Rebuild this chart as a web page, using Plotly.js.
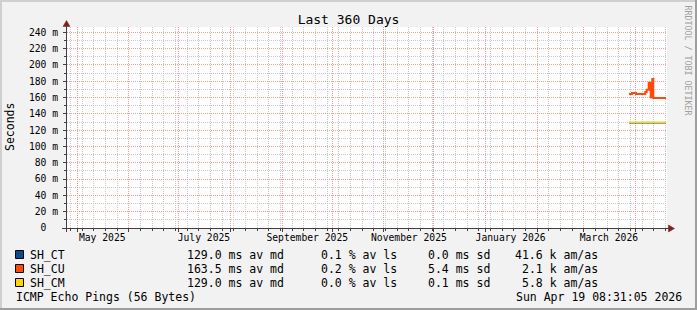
<!DOCTYPE html>
<html><head><meta charset="utf-8">
<script src="https://cdn.plot.ly/plotly-3.0.1.min.js"></script>
<style>html,body{margin:0;padding:0;background:#f2f2f2;overflow:hidden}#chart{width:697px;height:310px}</style>
</head><body><div id="chart"></div><script>
// ---- data ----
const seriesNames = ["SH_CT", "SH_CU", "SH_CM"];
const ctTimes = ["2026-03-28 01:00", "2026-04-19 06:00"];
const ctValues = [129.0, 129.0];
const cuTimes = ["2026-03-28 01:00", "2026-03-29 20:00", "2026-04-01 05:30", "2026-04-06 19:30",
  "2026-04-07 15:40", "2026-04-08 20:30", "2026-04-10 01:20", "2026-04-11 00:20",
  "2026-04-11 14:50", "2026-04-19 06:00"];
const cuValues = [164.2, 165.5, 164.2, 166.8, 169.5, 178.0, 160.5, 182.6, 159.3, 159.3];
const cmTimes = ["2026-03-28 01:00", "2026-04-19 06:00"];
const cmValues = [129.6, 129.6];
const medians = [129.0, 163.5, 129.0];
const losses = [0.1, 0.2, 0.0];
const stdevs = [0.0, 5.4, 0.1];
const amas = [41.6, 2.1, 5.8];
const monthTickDates = ["2025-05-16", "2025-07-16", "2025-09-16", "2025-11-16", "2026-01-16", "2026-03-16"];
const monthTickLabels = ["May 2025", "July 2025", "September 2025", "November 2025", "January 2026", "March 2026"];
const yTickVals = [0, 20, 40, 60, 80, 100, 120, 140, 160, 180, 200, 220, 240];
const yTickText = ["0\u00a0\u00a0", "20 m", "40 m", "60 m", "80 m", "100 m", "120 m", "140 m", "160 m", "180 m", "200 m", "220 m", "240 m"];
const chartTitle = "Last 360 Days";
const yTitle = "Seconds";
const footerLeft = "ICMP Echo Pings (56 Bytes)";
const footerRight = "Sun Apr 19 08:31:05 2026";
const watermark = "RRDTOOL / TOBI OETIKER";
const xRange = ["2025-04-24 20:00", "2026-04-19 20:00"];
const yRange = [0, 246.5];

// ---- style ----
const FONT = "DejaVu Sans Mono";
const colors = ["#0b4c8e", "#ff4a0a", "#ffd400"];
const L = 67, R = 667, T = 27, B = 228, W = 697, H = 310;
const px = x => (x - L) / (R - L);
const py = y => (B - y) / (B - T);
const axisColor = "#404040";
const MGRID = "#f09a9a", GRID = "#c8c8c8";
const WEEK = 7 * 24 * 3600 * 1000;

const traces = [
  {x: ctTimes, y: ctValues, name: seriesNames[0], mode: "lines", line: {color: colors[0], width: 1.5, shape: "hv"}},
  {x: cuTimes, y: cuValues, name: seriesNames[1], mode: "lines", line: {color: colors[1], width: 2, shape: "hv"}},
  {x: cmTimes, y: cmValues, name: seriesNames[2], mode: "lines", line: {color: colors[2], width: 1.5, shape: "hv"}},
  {x: [], y: [], xaxis: "x2", yaxis: "y", showlegend: false, hoverinfo: "skip"},
  {x: [], y: [], xaxis: "x3", yaxis: "y", showlegend: false, hoverinfo: "skip"},
  {x: [], y: [], xaxis: "x", yaxis: "y2", showlegend: false, hoverinfo: "skip"}
];

const shapes = [];
// 3D border (shade A top/left, shade B bottom/right)
shapes.push({type: "line", xref: "paper", yref: "paper", x0: px(0), x1: px(W), y0: py(1), y1: py(1), line: {color: "#cfcfcf", width: 2}});
shapes.push({type: "line", xref: "paper", yref: "paper", x0: px(1), x1: px(1), y0: py(0), y1: py(H), line: {color: "#cfcfcf", width: 2}});
shapes.push({type: "line", xref: "paper", yref: "paper", x0: px(0), x1: px(W), y0: py(H - 1), y1: py(H - 1), line: {color: "#9e9e9e", width: 2}});
shapes.push({type: "line", xref: "paper", yref: "paper", x0: px(W - 1), x1: px(W - 1), y0: py(0), y1: py(H), line: {color: "#9e9e9e", width: 2}});
// axes with arrows
shapes.push({type: "line", xref: "paper", yref: "paper", x0: px(66.5), x1: px(66.5), y0: py(232), y1: py(25), line: {color: axisColor, width: 1}});
shapes.push({type: "line", xref: "paper", yref: "paper", x0: px(62), x1: px(669), y0: py(228.5), y1: py(228.5), line: {color: axisColor, width: 1}});
shapes.push({type: "path", xref: "paper", yref: "paper",
  path: `M ${px(66.5)} ${py(20.5)} L ${px(63)} ${py(26.5)} L ${px(70)} ${py(26.5)} Z`,
  fillcolor: "#801f1f", line: {color: "#801f1f", width: 0.5}});
shapes.push({type: "path", xref: "paper", yref: "paper",
  path: `M ${px(674.5)} ${py(228.5)} L ${px(668.5)} ${py(225)} L ${px(668.5)} ${py(232)} Z`,
  fillcolor: "#801f1f", line: {color: "#801f1f", width: 0.5}});

const annotations = [];
const rowY = [254.5, 268.5, 282.5];
const ann = (text, x, y, anchor, extra) => Object.assign({
  text: text, xref: "paper", yref: "paper", x: px(x), y: py(y), xanchor: anchor, yanchor: "middle",
  showarrow: false, font: {family: FONT, size: 11.5, color: "#000"}, borderpad: 0
}, extra || {});
seriesNames.forEach((n, i) => {
  shapes.push({type: "rect", xref: "paper", yref: "paper", x0: px(15.5), x1: px(23.5), y0: py(rowY[i] + 4), y1: py(rowY[i] - 4),
    fillcolor: colors[i], line: {color: "#000", width: 1}});
  annotations.push(ann(n, 29, rowY[i], "left"));
  annotations.push(ann(medians[i].toFixed(1) + " ms av md", 185.5, rowY[i], "left"));
  annotations.push(ann(losses[i].toFixed(1) + " % av ls", 320, rowY[i], "left"));
  annotations.push(ann(stdevs[i].toFixed(1) + " ms sd", 427, rowY[i], "left"));
  annotations.push(ann(amas[i].toFixed(1) + " k am/as", 598.5, rowY[i], "right"));
});
annotations.push(ann(footerLeft, 15, 296.5, "left"));
annotations.push(ann(footerRight, 682.5, 296.5, "right"));
annotations.push(ann(yTitle, 10, 127, "center", {textangle: -90}));
annotations.push(ann(watermark, 687.5, 60, "center", {textangle: 90, font: {family: FONT, size: 8.3, color: "#a0a0a0"}}));

const tickFont = {family: FONT, size: 9.7, color: "#000"};
const layout = {
  width: W, height: H,
  margin: {l: L, r: W - R, t: T, b: H - B, pad: 0},
  paper_bgcolor: "#f2f2f2", plot_bgcolor: "#ffffff",
  showlegend: false,
  title: {text: chartTitle, font: {family: FONT, size: 13, color: "#000"}, xref: "container", yref: "container", x: 0.5, xanchor: "center", y: 1 - 19.5 / H, yanchor: "middle"},
  // weekly minor grid (data axis)
  xaxis: {
    type: "date", range: xRange, fixedrange: true,
    tickmode: "linear", tick0: "2025-04-27", dtick: WEEK,
    showticklabels: false, showgrid: true, gridcolor: GRID, gridwidth: 1, griddash: "1px,1px",
    ticks: "outside", ticklen: 2, tickcolor: axisColor, tickwidth: 1,
    showline: false, zeroline: false
  },
  // monthly major grid
  xaxis2: {
    type: "date", range: xRange, fixedrange: true, overlaying: "x", anchor: "y", side: "bottom",
    tickmode: "linear", tick0: "2025-05-01", dtick: "M1",
    showticklabels: false, showgrid: true, gridcolor: MGRID, gridwidth: 1, griddash: "1px,1px",
    ticks: "outside", ticklen: 3, tickcolor: axisColor, tickwidth: 1,
    showline: false, zeroline: false
  },
  // month labels
  xaxis3: {
    type: "date", range: xRange, fixedrange: true, overlaying: "x", anchor: "y", side: "bottom",
    tickmode: "array", tickvals: monthTickDates, ticktext: monthTickLabels,
    showgrid: false, ticks: "", showline: false, zeroline: false,
    tickfont: tickFont, ticklabelstandoff: 2
  },
  yaxis: {
    range: yRange, fixedrange: true,
    tickmode: "linear", tick0: 0, dtick: 10,
    showticklabels: false, showgrid: true, gridcolor: GRID, gridwidth: 1, griddash: "1px,1px",
    ticks: "outside", ticklen: 2, tickcolor: axisColor,
    showline: false, zeroline: false
  },
  yaxis2: {
    range: yRange, fixedrange: true, overlaying: "y", anchor: "x", side: "left",
    tickmode: "array", tickvals: yTickVals, ticktext: yTickText,
    showgrid: true, gridcolor: MGRID, gridwidth: 1, griddash: "1px,1px",
    ticks: "outside", ticklen: 3, tickcolor: axisColor,
    showline: false, zeroline: false,
    tickfont: tickFont, ticklabelstandoff: 3
  },
  shapes: shapes,
  annotations: annotations
};
Plotly.newPlot("chart", traces, layout, {displayModeBar: false, staticPlot: true});
</script></body></html>
